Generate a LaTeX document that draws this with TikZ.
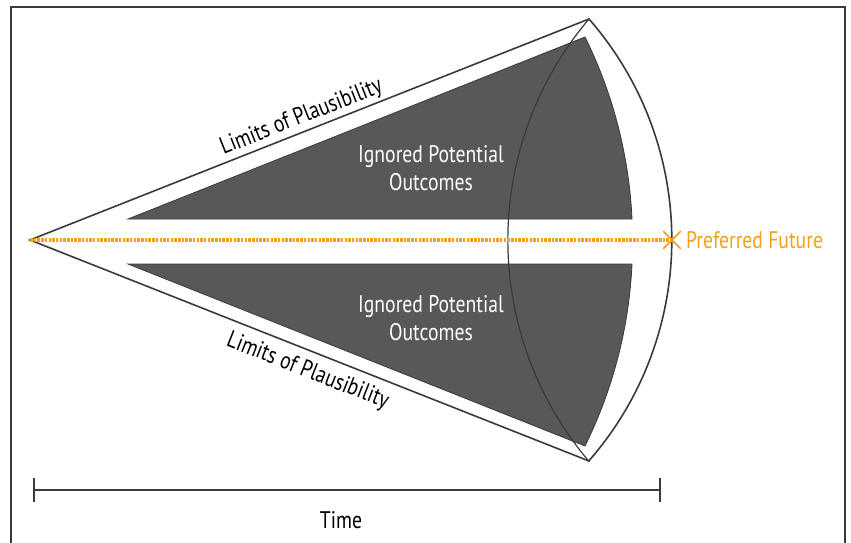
\documentclass[tikz,border=0pt]{standalone}
\usepackage{fontspec}
\setmainfont[FakeStretch=0.82]{PT Sans}
\usetikzlibrary{positioning, arrows.meta, shapes.misc}
\definecolor{conegray}{HTML}{58585A}
\definecolor{linegray}{HTML}{3A3A3A}
\definecolor{futureorange}{HTML}{F5A01A}

\begin{document}
\begin{tikzpicture}[x=1pt, y=1pt, line join=miter,
	edge/.style={draw=linegray, line width=1.6pt},
	ignored/.style={fill=conegray, draw=linegray, line width=0.8pt},
	caption/.style={font=\fontsize{24}{28}\selectfont, text=black, inner sep=2pt},
	inside/.style={font=\fontsize{24}{28}\selectfont, text=white, align=center}]
	\useasboundingbox (0,0) rectangle (851,542);
	\clip (0,0) rectangle (851,542);
	\draw[draw=linegray, line width=1.2pt] (11,-20) -- (11,535) -- (845,535) -- (845,-20);

	% key points of the cone
	\coordinate (apex) at (30,302);
	\coordinate (toptip) at (589,523);
	\coordinate (bottip) at (589,81);

	% ignored outcomes
	\path[ignored] (128,323) -- (632,323) arc[start angle=2.63, end angle=26.33, radius=457.7pt] -- cycle;
	\path[ignored] (128,278) -- (632,278) arc[start angle=-2.63, end angle=-26.33, radius=457.7pt] -- cycle;
	\node[inside] (upper) at (431,374) {Ignored Potential\\Outcomes};
	\node[inside] (lower) at (431,224) {Ignored Potential\\Outcomes};

	% cone of plausibility
	\draw[edge] (apex) -- (toptip) arc[start angle=41.1, end angle=-41.1, radius=336pt] -- (bottip) -- cycle;
	\draw[draw=linegray, line width=1.2pt] (toptip) arc[start angle=139.7, end angle=220.3, radius=342pt];
	\path (apex) -- (toptip) node[caption, sloped, above=1pt, pos=0.495] {Limits of Plausibility};
	\path (apex) -- (bottip) node[caption, sloped, below=7pt, pos=0.51] {Limits of Plausibility};

	% preferred future
	\node[cross out, draw=futureorange, line width=1.6pt, minimum size=16pt, inner sep=0pt] (xmark) at (672,302) {};
	\draw[futureorange, line width=3.5pt, dash pattern=on 2.5pt off 1.2pt] (apex) -- (xmark.center);
	\node[caption, text=futureorange, right=3pt of xmark] (future) {Preferred Future};

	% time
	\coordinate (tstart) at (33,52);
	\coordinate (tend) at (661,52);
	\draw[edge, {Bar[width=24pt]}-{Bar[width=24pt]}] (tstart) -- (tend);
	\node[caption] (time) at (341,22) {Time};
\end{tikzpicture}
\end{document}
